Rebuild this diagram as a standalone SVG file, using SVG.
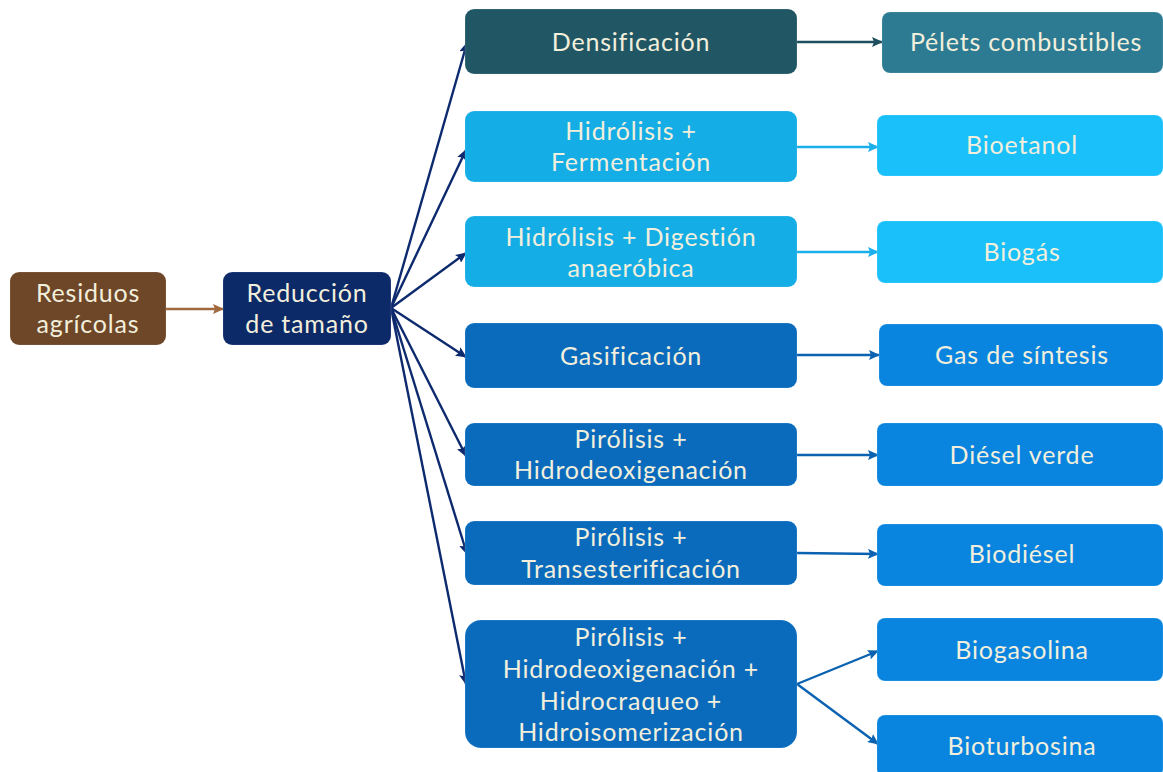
<svg xmlns="http://www.w3.org/2000/svg" width="1163" height="772" viewBox="0 0 1163 772">
<defs>
<style>
.t{font-family:Lato,"Open Sans","DejaVu Sans",sans-serif;font-size:25px;letter-spacing:0.8px;fill:#f2efdc;text-anchor:middle}
.box{stroke:#ffffff;stroke-opacity:0.15;stroke-width:1}
.c{fill:none;stroke-width:2.4}
</style>
<marker id="an" markerWidth="11" markerHeight="10" refX="10" refY="5" orient="auto" markerUnits="userSpaceOnUse"><path d="M0,0 L11,5 L0,10 L2,5 z" fill="#0d2a6e"/></marker>
<marker id="at" markerWidth="11" markerHeight="10" refX="10" refY="5" orient="auto" markerUnits="userSpaceOnUse"><path d="M0,0 L11,5 L0,10 L2,5 z" fill="#1f4f5e"/></marker>
<marker id="al" markerWidth="11" markerHeight="10" refX="10" refY="5" orient="auto" markerUnits="userSpaceOnUse"><path d="M0,0 L11,5 L0,10 L2,5 z" fill="#1bb0ec"/></marker>
<marker id="ab" markerWidth="11" markerHeight="10" refX="10" refY="5" orient="auto" markerUnits="userSpaceOnUse"><path d="M0,0 L11,5 L0,10 L2,5 z" fill="#0a62b0"/></marker>
<marker id="ar" markerWidth="11" markerHeight="10" refX="10" refY="5" orient="auto" markerUnits="userSpaceOnUse"><path d="M0,0 L11,5 L0,10 L2,5 z" fill="#a0683c"/></marker>
</defs>
<rect width="1163" height="772" fill="#ffffff"/>
<g id="connectors">
<path class="c" d="M166,309 L223,309" stroke="#a0683c" marker-end="url(#ar)"/>
<path class="c" d="M391,308 L467,43" stroke="#0d2a6e" marker-end="url(#an)"/>
<path class="c" d="M391,308 L466,150" stroke="#0d2a6e" marker-end="url(#an)"/>
<path class="c" d="M391,308 L466,253" stroke="#0d2a6e" marker-end="url(#an)"/>
<path class="c" d="M391,308 L466,357" stroke="#0d2a6e" marker-end="url(#an)"/>
<path class="c" d="M391,308 L466,456" stroke="#0d2a6e" marker-end="url(#an)"/>
<path class="c" d="M391,308 L467,554" stroke="#0d2a6e" marker-end="url(#an)"/>
<path class="c" d="M391,308 L466,684" stroke="#0d2a6e" marker-end="url(#an)"/>
<path class="c" d="M797,42 L882,42" stroke="#1f4f5e" marker-end="url(#at)"/>
<path class="c" d="M797,147 L878,147" stroke="#1bb0ec" marker-end="url(#al)"/>
<path class="c" d="M797,252 L878,252" stroke="#1bb0ec" marker-end="url(#al)"/>
<path class="c" d="M797,355 L879,355" stroke="#0a62b0" marker-end="url(#ab)"/>
<path class="c" d="M797,455 L878,455" stroke="#0a62b0" marker-end="url(#ab)"/>
<path class="c" d="M797,553 L878,554" stroke="#0a62b0" marker-end="url(#ab)"/>
<path class="c" d="M797,684 L878,651" stroke="#0a62b0" marker-end="url(#ab)"/>
<path class="c" d="M797,684 L878,744" stroke="#0a62b0" marker-end="url(#ab)"/>
</g>
<g id="n-residuos"><rect class="box" x="10" y="272" width="156" height="73" rx="9" fill="#6e4628"/><text class="t" x="88" y="302">Residuos</text><text class="t" x="88" y="333">agrícolas</text></g>
<g id="n-reduccion"><rect class="box" x="223" y="272" width="168" height="73" rx="9" fill="#0c2968"/><text class="t" x="307" y="302">Reducción</text><text class="t" x="307" y="333">de tamaño</text></g>
<g id="n-densificacion"><rect class="box" x="465" y="9" width="332" height="65" rx="9" fill="#215765"/><text class="t" x="631" y="51">Densificación</text></g>
<g id="n-hidrolisis-fermentacion"><rect class="box" x="465" y="111" width="332" height="71" rx="9" fill="#14ade5"/><text class="t" x="631" y="140">Hidrólisis +</text><text class="t" x="631" y="171">Fermentación</text></g>
<g id="n-hidrolisis-digestion"><rect class="box" x="465" y="216" width="332" height="71" rx="9" fill="#14ade5"/><text class="t" x="631" y="246">Hidrólisis + Digestión</text><text class="t" x="631" y="277">anaeróbica</text></g>
<g id="n-gasificacion"><rect class="box" x="465" y="323" width="332" height="65" rx="9" fill="#0a6bbd"/><text class="t" x="631" y="365">Gasificación</text></g>
<g id="n-pirolisis-hdo"><rect class="box" x="465" y="423" width="332" height="63" rx="9" fill="#0a6bbd"/><text class="t" x="631" y="448">Pirólisis +</text><text class="t" x="631" y="479">Hidrodeoxigenación</text></g>
<g id="n-pirolisis-trans"><rect class="box" x="465" y="521" width="332" height="64" rx="9" fill="#0a6bbd"/><text class="t" x="631" y="546">Pirólisis +</text><text class="t" x="631" y="578">Transesterificación</text></g>
<g id="n-pirolisis-multi"><rect class="box" x="465" y="620" width="332" height="128" rx="16" fill="#0a6bbd"/><text class="t" x="631" y="646">Pirólisis +</text><text class="t" x="631" y="678">Hidrodeoxigenación  +</text><text class="t" x="631" y="710">Hidrocraqueo  +</text><text class="t" x="631" y="741">Hidroisomerización</text></g>
<g id="n-pelets"><rect class="box" x="882" y="12" width="281" height="61" rx="8" fill="#2d7b93"/><text class="t" x="1026" y="51">Pélets combustibles</text></g>
<g id="n-bioetanol"><rect class="box" x="877" y="115" width="286" height="61" rx="8" fill="#19c0fa"/><text class="t" x="1022" y="154">Bioetanol</text></g>
<g id="n-biogas"><rect class="box" x="877" y="221" width="286" height="62" rx="8" fill="#19c0fa"/><text class="t" x="1022" y="261">Biogás</text></g>
<g id="n-gas-sintesis"><rect class="box" x="879" y="324" width="284" height="62" rx="8" fill="#0985e0"/><text class="t" x="1022" y="364">Gas de síntesis</text></g>
<g id="n-diesel-verde"><rect class="box" x="877" y="423" width="286" height="63" rx="8" fill="#0985e0"/><text class="t" x="1022" y="464">Diésel verde</text></g>
<g id="n-biodiesel"><rect class="box" x="877" y="524" width="286" height="62" rx="8" fill="#0985e0"/><text class="t" x="1022" y="563">Biodiésel</text></g>
<g id="n-biogasolina"><rect class="box" x="877" y="618" width="286" height="63" rx="8" fill="#0985e0"/><text class="t" x="1022" y="659">Biogasolina</text></g>
<g id="n-bioturbosina"><rect class="box" x="877" y="715" width="286" height="62" rx="8" fill="#0985e0"/><text class="t" x="1022" y="755">Bioturbosina</text></g>
</svg>
